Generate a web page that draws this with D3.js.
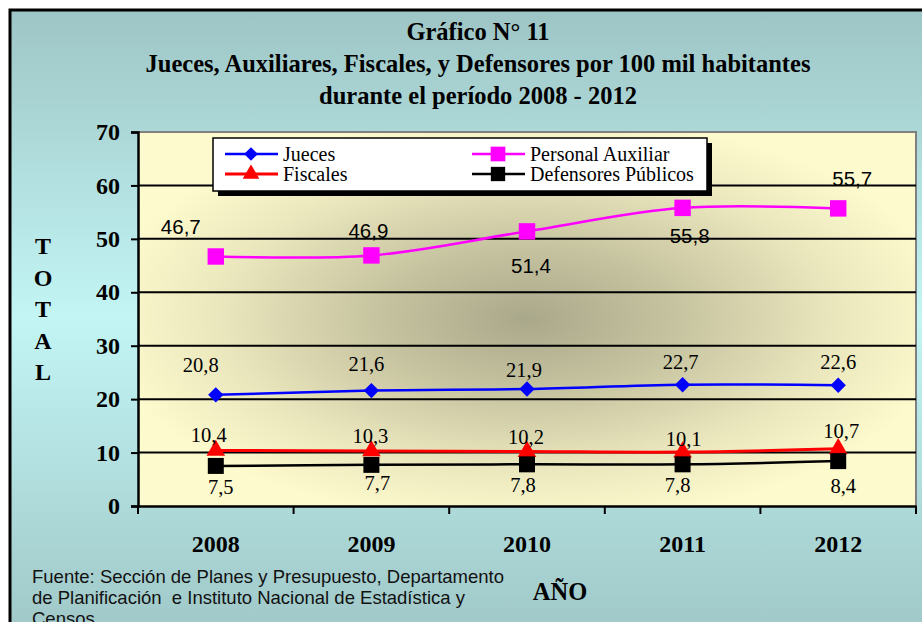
<!DOCTYPE html>
<html>
<head>
<meta charset="utf-8">
<script src="https://cdn.jsdelivr.net/npm/d3@7"></script>
<style>
  html, body { margin: 0; padding: 0; background: #ffffff; }
  svg { display: block; }
</style>
</head>
<body>
<div id="chart"></div>
<script>
// chart data
const years = ["2008", "2009", "2010", "2011", "2012"];
const jueces = [20.8, 21.6, 21.9, 22.7, 22.6];
const personalAuxiliar = [46.7, 46.9, 51.4, 55.8, 55.7];
const fiscales = [10.4, 10.3, 10.2, 10.1, 10.7];
const defensores = [7.5, 7.7, 7.8, 7.8, 8.4];
const yTicks = [0, 10, 20, 30, 40, 50, 60, 70];

const titleLines = [
    "Gráfico N° 11",
    "Jueces, Auxiliares, Fiscales, y Defensores por 100 mil habitantes",
    "durante el período 2008 - 2012"
];
const sourceLines = [
    "Fuente: Sección de Planes y Presupuesto, Departamento",
    "de Planificación  e Instituto Nacional de Estadística y",
    "Censos"
];

const width = 922;
const height = 622;
const plot = { left: 138, right: 916, top: 132, bottom: 506 };
const serif = "'Liberation Serif', 'Times New Roman', serif";
const sans = "'Liberation Sans', Arial, sans-serif";

const svg = d3.select("#chart")
    .append("svg")
    .attr("width", width)
    .attr("height", height);

const defs = svg.append("defs");

// outer teal background, lighter in the middle
const outerGrad = defs.append("linearGradient")
    .attr("id", "outer-grad")
    .attr("x1", 0).attr("y1", 0).attr("x2", 0).attr("y2", 1);
outerGrad.append("stop").attr("offset", "0%").attr("stop-color", "#9ec5c5");
outerGrad.append("stop").attr("offset", "48%").attr("stop-color", "#c3f5f5");
outerGrad.append("stop").attr("offset", "100%").attr("stop-color", "#9ec5c5");

// plot area: dark olive centre fading to pale yellow
const plotGrad = defs.append("radialGradient")
    .attr("id", "plot-grad")
    .attr("cx", "50%").attr("cy", "50%").attr("r", "55%");
plotGrad.append("stop").attr("offset", "0%").attr("stop-color", "#aaa88a");
plotGrad.append("stop").attr("offset", "35%").attr("stop-color", "#c6c3a0");
plotGrad.append("stop").attr("offset", "75%").attr("stop-color", "#ede9bf");
plotGrad.append("stop").attr("offset", "100%").attr("stop-color", "#fdfacd");

svg.append("rect")
    .attr("x", 10).attr("y", 10)
    .attr("width", 940).attr("height", 640)
    .attr("fill", "url(#outer-grad)")
    .attr("stroke", "#000")
    .attr("stroke-width", 3);

// title
svg.append("g")
    .selectAll("text")
    .data(titleLines)
    .join("text")
    .attr("x", 478)
    .attr("y", (d, i) => 40 + i * 32)
    .attr("text-anchor", "middle")
    .style("font-family", serif)
    .style("font-weight", "bold")
    .style("font-size", "24.5px")
    .text(d => d);

const x = d3.scaleBand()
    .domain(years)
    .range([plot.left, plot.right]);

const y = d3.scaleLinear()
    .domain([0, 70])
    .range([plot.bottom, plot.top]);

svg.append("rect")
    .attr("x", plot.left).attr("y", plot.top)
    .attr("width", plot.right - plot.left)
    .attr("height", plot.bottom - plot.top)
    .attr("fill", "url(#plot-grad)");

// plot border (gray top/right)
svg.append("path")
    .attr("d", `M${plot.left},${plot.top}H${plot.right}V${plot.bottom}`)
    .attr("fill", "none")
    .attr("stroke", "#808080")
    .attr("stroke-width", 2);

// gridlines
svg.append("g")
    .selectAll("line")
    .data(yTicks.filter(t => t > 0 && t < 70))
    .join("line")
    .attr("x1", plot.left).attr("x2", plot.right)
    .attr("y1", d => y(d)).attr("y2", d => y(d))
    .attr("stroke", "#000")
    .attr("stroke-width", 2);

// y axis
const yAxis = svg.append("g")
    .attr("transform", `translate(${plot.left},0)`)
    .call(d3.axisLeft(y).tickValues(yTicks).tickSize(7).tickPadding(11).tickFormat(d3.format("d")));
yAxis.select(".domain").attr("stroke-width", 2.5);
yAxis.selectAll(".tick line").attr("stroke-width", 2);
yAxis.selectAll("text")
    .style("font-family", serif)
    .style("font-weight", "bold")
    .style("font-size", "24px")
    .attr("fill", "#000");

// x axis: labels at category centres, ticks at category boundaries
const xAxis = svg.append("g")
    .attr("transform", `translate(0,${plot.bottom})`)
    .call(d3.axisBottom(x).tickSize(0).tickPadding(29));
xAxis.select(".domain").attr("stroke-width", 2.5);
xAxis.selectAll("text")
    .style("font-family", serif)
    .style("font-weight", "bold")
    .style("font-size", "24px")
    .attr("fill", "#000");
xAxis.selectAll(".boundary")
    .data(years.map(d => x(d) + x.bandwidth()).concat([plot.left]))
    .join("line")
    .attr("class", "boundary")
    .attr("x1", d => d).attr("x2", d => d)
    .attr("y1", 0).attr("y2", 8)
    .attr("stroke", "#000")
    .attr("stroke-width", 2);

// axis titles
svg.append("g")
    .selectAll("text")
    .data("TOTAL".split(""))
    .join("text")
    .attr("x", 43)
    .attr("y", (d, i) => 254 + i * 31.5)
    .attr("text-anchor", "middle")
    .style("font-family", serif)
    .style("font-weight", "bold")
    .style("font-size", "24px")
    .text(d => d);

svg.append("text")
    .attr("x", 560)
    .attr("y", 600)
    .attr("text-anchor", "middle")
    .style("font-family", serif)
    .style("font-weight", "bold")
    .style("font-size", "24.5px")
    .text("AÑO");

// source note
svg.append("g")
    .selectAll("text")
    .data(sourceLines)
    .join("text")
    .attr("x", 32)
    .attr("y", (d, i) => 583 + i * 21)
    .style("font-family", sans)
    .style("font-size", "18.5px")
    .style("white-space", "pre")
    .attr("fill", "#111")
    .text(d => d);

// series
const series = [
    { name: "Jueces", values: jueces, color: "#0000ff", symbol: d3.symbolDiamond2, size: 150, stroke: 2.5,
      font: serif, labelDx: [-15, -5, -3, -2, 0], labelDy: [-23, -20, -12, -16, -16] },
    { name: "Personal Auxiliar", values: personalAuxiliar, color: "#ff00ff", symbol: d3.symbolSquare, size: 270, stroke: 2.5,
      font: sans, labelDx: [-35, -3, 4, 7, 14], labelDy: [-22, -17, 42, 35, -22] },
    { name: "Fiscales", values: fiscales, color: "#ff0000", symbol: d3.symbolTriangle, size: 150, stroke: 3,
      font: serif, labelDx: [-7, -1, -1, 1, 3], labelDy: [-8, -8, -8, -6, -11] },
    { name: "Defensores Públicos", values: defensores, color: "#000000", symbol: d3.symbolSquare, size: 256, stroke: 2.5,
      font: serif, labelDx: [5, 6, -4, -5, 5], labelDy: [28, 25, 28, 28, 32] }
];

const line = d3.line()
    .x((d, i) => x(years[i]) + x.bandwidth() / 2)
    .y(d => y(d))
    .curve(d3.curveCatmullRom.alpha(0.5));

series.forEach(s => {
    svg.append("path")
        .datum(s.values)
        .attr("fill", "none")
        .attr("stroke", s.color)
        .attr("stroke-width", s.stroke)
        .attr("d", line);
});

series.forEach(s => {
    svg.append("g")
        .selectAll("path")
        .data(s.values)
        .join("path")
        .attr("transform", (d, i) => `translate(${x(years[i]) + x.bandwidth() / 2},${y(d)})`)
        .attr("d", d3.symbol().type(s.symbol).size(s.size))
        .attr("fill", s.color);
});

series.forEach(s => {
    svg.append("g")
        .selectAll("text")
        .data(s.values)
        .join("text")
        .attr("x", (d, i) => x(years[i]) + x.bandwidth() / 2 + s.labelDx[i])
        .attr("y", (d, i) => y(d) + s.labelDy[i])
        .attr("text-anchor", "middle")
        .style("font-family", s.font)
        .style("font-size", "20.5px")
        .attr("fill", "#000")
        .text(d => d3.format(".1f")(d).replace(".", ","));
});

// legend
const legend = svg.append("g").attr("transform", "translate(213,138)");
legend.append("rect")
    .attr("x", 5).attr("y", 5)
    .attr("width", 494).attr("height", 53)
    .attr("fill", "#000");
legend.append("rect")
    .attr("width", 494).attr("height", 53)
    .attr("fill", "#fff")
    .attr("stroke", "#000")
    .attr("stroke-width", 1.5);

const legendOrder = [0, 2, 1, 3];
legendOrder.forEach((si, k) => {
    const s = series[si];
    const col = Math.floor(k / 2);
    const row = k % 2;
    const gx = 12 + col * 247;
    const gy = 16 + row * 20;
    const item = legend.append("g").attr("transform", `translate(${gx},${gy})`);
    item.append("line")
        .attr("x1", 0).attr("x2", 53)
        .attr("stroke", s.color)
        .attr("stroke-width", s.stroke);
    item.append("path")
        .attr("transform", "translate(26,0)")
        .attr("d", d3.symbol().type(s.symbol).size(s.size * 0.8))
        .attr("fill", s.color);
    item.append("text")
        .attr("x", 58)
        .attr("y", 7)
        .style("font-family", serif)
        .style("font-size", "20px")
        .text(s.name);
});
</script>
</body>
</html>
